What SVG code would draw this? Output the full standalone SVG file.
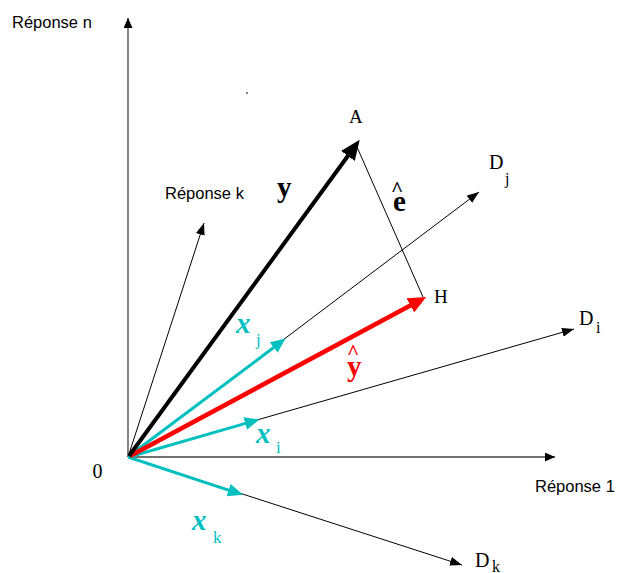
<svg xmlns="http://www.w3.org/2000/svg" width="622" height="573" viewBox="0 0 622 573">
<style>
.ax{stroke:#444;stroke-width:1.3;fill:none}
.thin{stroke:#000;stroke-width:1;fill:none}
.cy{stroke:#00BFBF;stroke-width:3;fill:none}
.rd{stroke:#FF0000;stroke-width:4.5;fill:none}
.bk{stroke:#000;stroke-width:4;fill:none}
.sans{font-family:"Liberation Sans",Arial,sans-serif;font-size:16.5px;fill:#000}
.serif{font-family:"Liberation Serif","Times New Roman",serif;fill:#000}
.red{font-family:"Liberation Serif","Times New Roman",serif;fill:#FF0000;font-weight:bold}
.vec{font-family:"Liberation Serif","Times New Roman",serif;font-weight:bold;font-style:italic;fill:#00BFBF;font-size:29px}
.sub{font-family:"Liberation Serif","Times New Roman",serif;fill:#00BFBF;font-size:17px}
</style>
<defs>
<marker id="mAx" markerUnits="userSpaceOnUse" markerWidth="10" markerHeight="9" refX="10" refY="4.5" orient="auto"><path d="M0,0 L10,4.5 L0,9 z" fill="#000"/></marker>
<marker id="mThin" markerUnits="userSpaceOnUse" markerWidth="12" markerHeight="9" refX="12" refY="4.5" orient="auto"><path d="M0,0 L12,4.5 L0,9 z" fill="#000"/></marker>
<marker id="mCy" markerUnits="userSpaceOnUse" markerWidth="15" markerHeight="13" refX="0.5" refY="6.5" orient="auto"><path d="M0,0 L15,6.5 L0,13 z" fill="#00BFBF"/></marker>
<marker id="mRd" markerUnits="userSpaceOnUse" markerWidth="18" markerHeight="16" refX="0.5" refY="8" orient="auto"><path d="M0,0 L18,8 L0,16 z" fill="#FF0000"/></marker>
<marker id="mBk" markerUnits="userSpaceOnUse" markerWidth="20" markerHeight="17" refX="0.5" refY="8.5" orient="auto"><path d="M0,0 L20,8.5 L0,17 z" fill="#000"/></marker>
</defs>
<g id="connectors">
<line id="axis-n" class="ax" x1="128" y1="457" x2="128" y2="18" marker-end="url(#mAx)"/>
<line id="axis-1" class="ax" x1="128" y1="457" x2="555" y2="457" marker-end="url(#mAx)"/>
<line id="axis-k" class="thin" x1="128" y1="457" x2="204" y2="223" marker-end="url(#mThin)"/>
<line id="Dj" class="thin" x1="128" y1="457" x2="479" y2="192" marker-end="url(#mThin)"/>
<line id="Di" class="thin" x1="128" y1="457" x2="574" y2="329" marker-end="url(#mThin)"/>
<line id="Dk" class="thin" x1="128" y1="457" x2="462" y2="565" marker-end="url(#mThin)"/>
<line id="AH" class="thin" x1="357" y1="147" x2="423" y2="297"/>
<line id="xk" class="cy" x1="128" y1="457" x2="229.1" y2="490.3" marker-end="url(#mCy)"/>
<line id="xi" class="cy" x1="129" y1="457" x2="245.6" y2="423.4" marker-end="url(#mCy)"/>
<line id="xj" class="cy" x1="129" y1="456" x2="274" y2="347.3" marker-end="url(#mCy)"/>
<line id="yhat" class="rd" x1="130" y1="456" x2="410.8" y2="305.2" marker-end="url(#mRd)"/>
<line id="y" class="bk" x1="129" y1="456" x2="348.2" y2="155.5" marker-end="url(#mBk)"/>
</g>
<rect x="246.5" y="92" width="1" height="2" fill="#000"/>
<g id="label-rn"><text class="sans" x="12" y="27.5">Réponse n</text></g>
<g id="label-rk"><text class="sans" x="165" y="199">Réponse k</text></g>
<g id="label-r1"><text class="sans" x="535" y="492">Réponse 1</text></g>
<g id="label-0"><text class="serif" x="92.5" y="478" font-size="20">0</text></g>
<g id="label-A"><text class="serif" x="349" y="123" font-size="19">A</text></g>
<g id="label-H"><text class="serif" x="434" y="303" font-size="19">H</text></g>
<g id="label-Dj"><text class="serif" x="489" y="169" font-size="20">D</text><text class="serif" x="505" y="184" font-size="16">j</text></g>
<g id="label-Di"><text class="serif" x="579" y="325" font-size="20">D</text><text class="serif" x="596" y="333" font-size="16">i</text></g>
<g id="label-Dk"><text class="serif" x="475" y="567" font-size="20">D</text><text class="serif" x="492" y="572" font-size="16">k</text></g>
<g id="label-y"><text class="serif" x="277" y="197" font-size="29" font-weight="bold">y</text></g>
<g id="label-e"><text class="serif" x="393" y="211" font-size="29" font-weight="bold">e</text><text class="serif" x="391" y="196" font-size="21" font-weight="bold">^</text></g>
<g id="label-yhat"><text class="red" x="347" y="376" font-size="29">y</text><text class="red" x="347" y="359" font-size="21">^</text></g>
<g id="label-xj"><text class="vec" x="236" y="333">x</text><text class="sub" x="256" y="345">j</text></g>
<g id="label-xi"><text class="vec" x="256" y="443">x</text><text class="sub" x="276" y="453">i</text></g>
<g id="label-xk"><text class="vec" x="192" y="530">x</text><text class="sub" x="213" y="543">k</text></g>
</svg>
